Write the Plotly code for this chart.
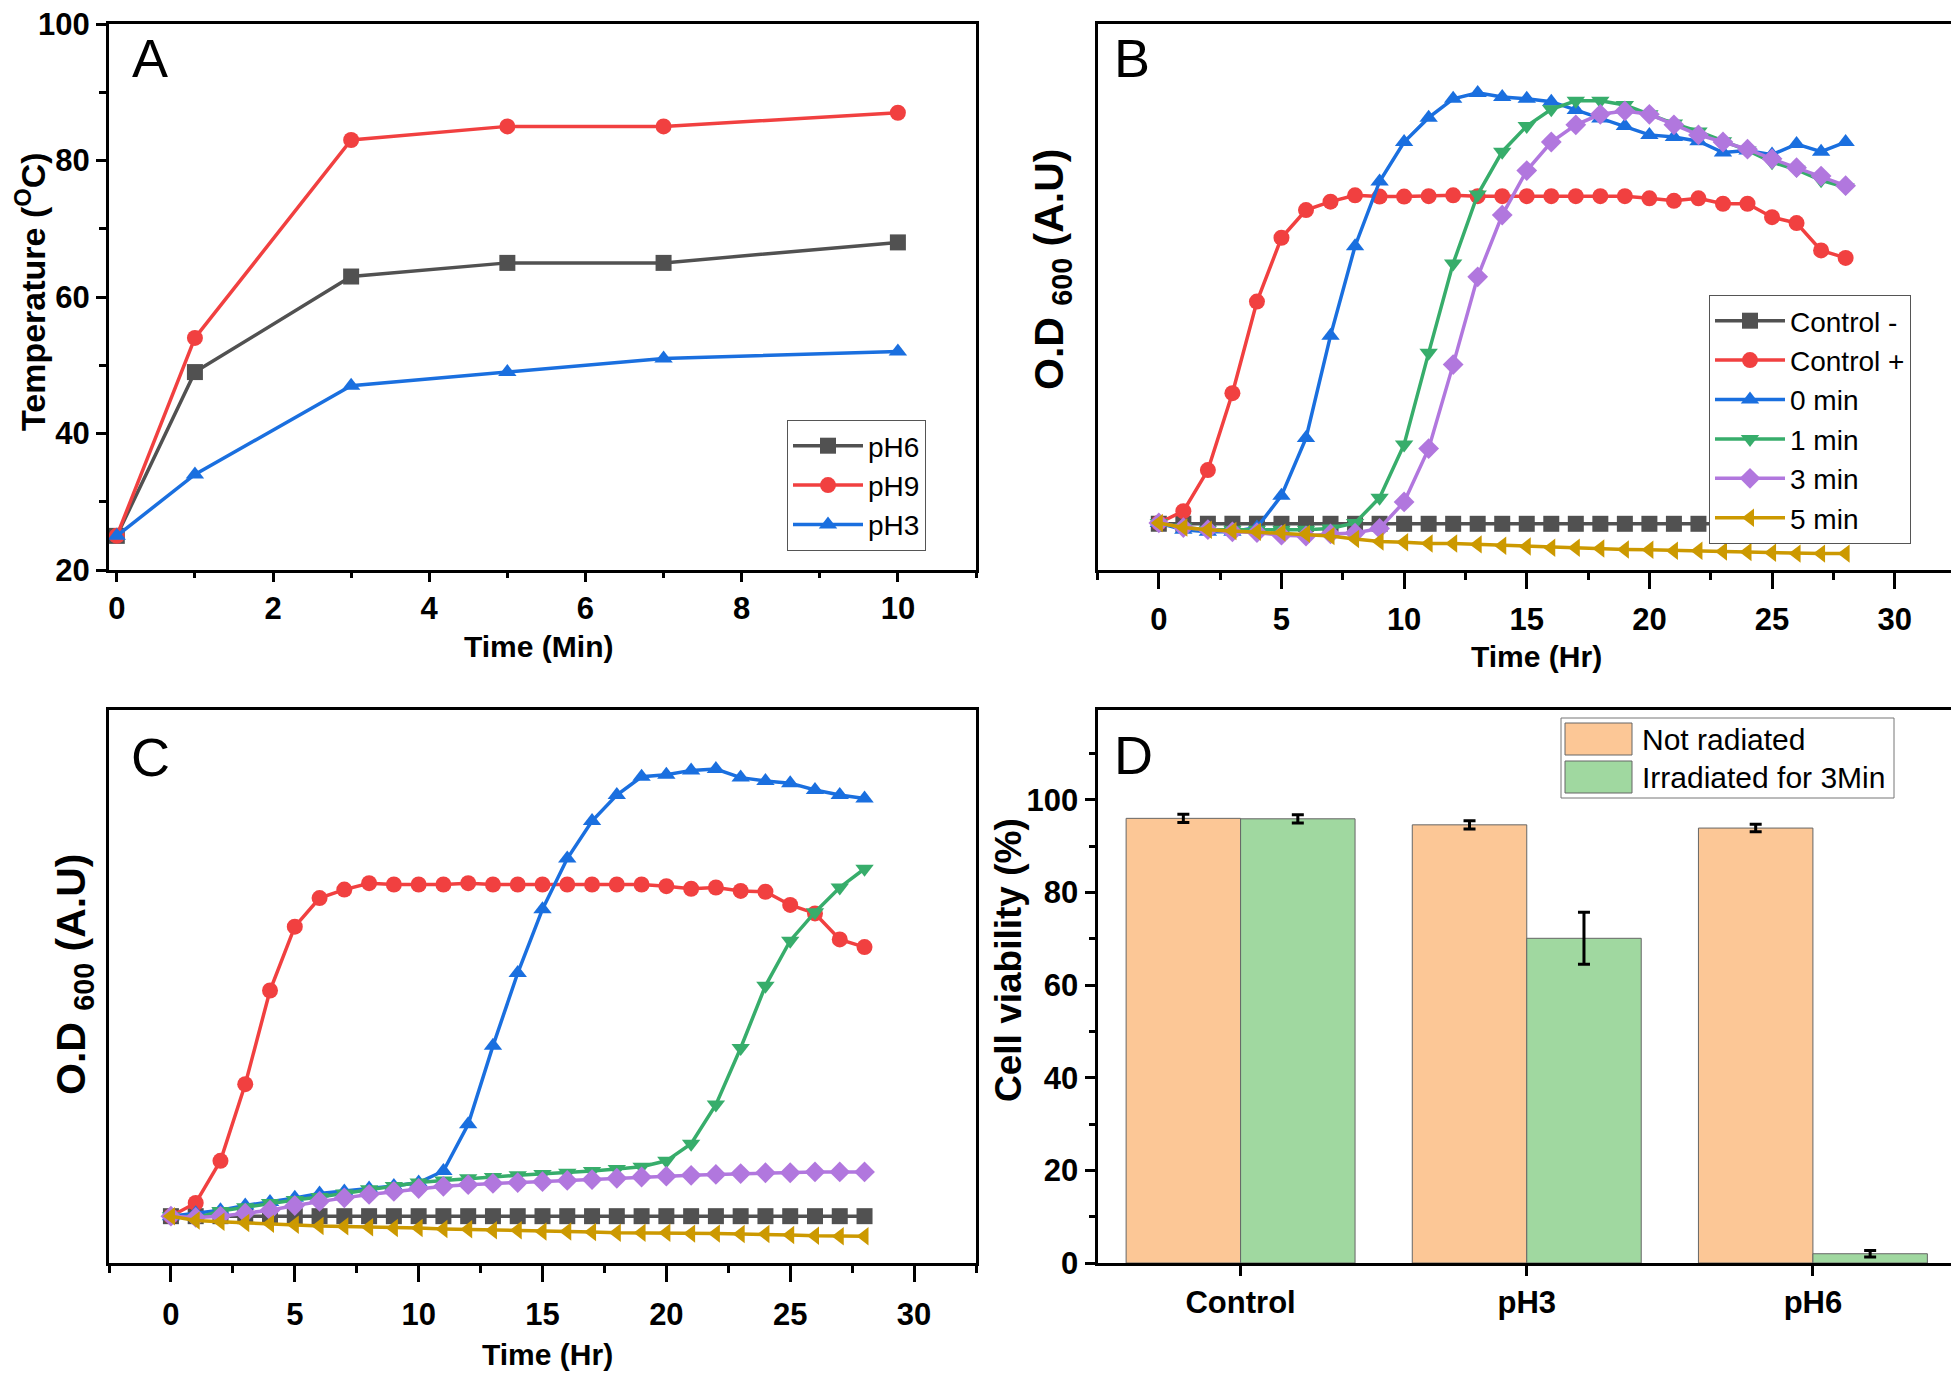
import plotly.graph_objects as go

# the page puts the figure 8 px in from the top-left corner of the window
OFF = 8
W, H = 1959 - OFF, 1374 - OFF

# ---- panel A: temperature vs irradiation time ----
time_min = [0, 1, 3, 5, 7, 10]
temp_ph6 = [25, 49, 63, 65, 65, 68]
temp_ph9 = [25, 54, 83, 85, 85, 87]
temp_ph3 = [25, 34, 47, 49, 51, 52]

# ---- panels B / C: growth curves (O.D 600, arbitrary units), hourly ----
hours = [0, 1, 2, 3, 4, 5, 6, 7, 8, 9, 10, 11, 12, 13, 14, 15, 16, 17, 18, 19, 20,
         21, 22, 23, 24, 25, 26, 27, 28]
series_names = ["Control -", "Control +", "0 min", "1 min", "3 min", "5 min"]

b_ctrl_neg = [0.11, 0.11, 0.11, 0.11, 0.11, 0.11, 0.11, 0.11, 0.11, 0.11, 0.11, 0.11, 0.11, 0.11,
              0.11, 0.11, 0.11, 0.11, 0.11, 0.11, 0.11, 0.11, 0.11, 0.11, 0.11, 0.11, 0.11, 0.11, 0.11]
b_ctrl_pos = [0.112, 0.140, 0.238, 0.421, 0.639, 0.791, 0.857, 0.877, 0.892, 0.889, 0.889, 0.890,
              0.892, 0.890, 0.890, 0.890, 0.890, 0.890, 0.890, 0.890, 0.885, 0.879, 0.885, 0.872,
              0.872, 0.840, 0.826, 0.761, 0.743]
b_0min = [0.112, 0.096, 0.091, 0.091, 0.101, 0.177, 0.314, 0.558, 0.771, 0.925, 1.019, 1.077,
          1.122, 1.136, 1.126, 1.122, 1.115, 1.095, 1.075, 1.057, 1.036, 1.031, 1.021, 0.994,
          0.999, 0.989, 1.014, 0.996, 1.019]
b_1min = [0.112, 0.101, 0.096, 0.096, 0.096, 0.096, 0.096, 0.099, 0.112, 0.172, 0.299, 0.517,
          0.730, 0.894, 0.996, 1.057, 1.097, 1.117, 1.117, 1.107, 1.085, 1.063, 1.044, 1.021,
          0.999, 0.971, 0.953, 0.928, 0.911]
b_3min = [0.112, 0.101, 0.096, 0.091, 0.089, 0.083, 0.081, 0.086, 0.088, 0.099, 0.162, 0.289,
          0.489, 0.698, 0.845, 0.951, 1.019, 1.060, 1.085, 1.093, 1.085, 1.060, 1.036, 1.019,
          1.002, 0.979, 0.958, 0.938, 0.915]
b_5min = [0.112, 0.101, 0.096, 0.093, 0.091, 0.089, 0.086, 0.081, 0.074, 0.068, 0.066, 0.063,
          0.063, 0.061, 0.058, 0.056, 0.053, 0.053, 0.051, 0.049, 0.048, 0.046, 0.046, 0.044,
          0.043, 0.041, 0.039, 0.039, 0.039]

c_ctrl_neg = [0.11, 0.11, 0.11, 0.11, 0.11, 0.11, 0.11, 0.11, 0.11, 0.11, 0.11, 0.11, 0.11, 0.11,
              0.11, 0.11, 0.11, 0.11, 0.11, 0.11, 0.11, 0.11, 0.11, 0.11, 0.11, 0.11, 0.11, 0.11, 0.11]
c_ctrl_pos = [0.110, 0.141, 0.240, 0.420, 0.640, 0.790, 0.857, 0.877, 0.892, 0.889, 0.889, 0.889,
              0.892, 0.889, 0.889, 0.889, 0.889, 0.889, 0.889, 0.889, 0.885, 0.879, 0.882, 0.874,
              0.872, 0.841, 0.821, 0.760, 0.742]
c_0min = [0.110, 0.117, 0.124, 0.135, 0.143, 0.153, 0.163, 0.168, 0.175, 0.181, 0.189, 0.216,
          0.326, 0.510, 0.681, 0.831, 0.950, 1.038, 1.099, 1.142, 1.147, 1.157, 1.160, 1.140,
          1.132, 1.127, 1.111, 1.099, 1.091]
c_1min = [0.110, 0.105, 0.122, 0.131, 0.141, 0.148, 0.155, 0.163, 0.173, 0.181, 0.189, 0.194,
          0.199, 0.202, 0.206, 0.209, 0.212, 0.216, 0.221, 0.226, 0.240, 0.280, 0.372, 0.505,
          0.651, 0.757, 0.824, 0.882, 0.926]
c_3min = [0.110, 0.107, 0.110, 0.117, 0.124, 0.135, 0.145, 0.153, 0.161, 0.168, 0.175, 0.180,
          0.184, 0.187, 0.189, 0.191, 0.194, 0.196, 0.199, 0.202, 0.204, 0.206, 0.208, 0.210,
          0.212, 0.212, 0.214, 0.214, 0.214]
c_5min = [0.110, 0.100, 0.097, 0.094, 0.092, 0.090, 0.087, 0.086, 0.084, 0.082, 0.082, 0.080,
          0.079, 0.077, 0.077, 0.074, 0.074, 0.073, 0.071, 0.071, 0.071, 0.069, 0.069, 0.068,
          0.068, 0.066, 0.064, 0.063, 0.063]

# ---- panel D: cell viability ----
groups = ["Control", "pH3", "pH6"]
viab_not = [96.0, 94.6, 93.9]
viab_not_err = [0.9, 0.9, 0.8]
viab_irr = [95.9, 70.1, 2.0]
viab_irr_err = [0.9, 5.6, 0.7]

COLORS = ["#515151", "#F14040", "#1A6FDF", "#37AD6B", "#B177DE", "#CC9900"]
SYMBOLS = ["square", "circle", "triangle-up", "triangle-down", "diamond", "triangle-left"]
ORANGE = "#FCC796"
LGREEN = "#A0D8A0"

FONT = "Liberation Sans, Arial"
TICKFONT = dict(family=FONT, size=31, color="black", weight="bold")
MSIZE = 16
LW = 3.5


def px(x, y):
    # window pixel -> paper coordinates
    return (x - OFF) / W, 1 - (y - OFF) / H


fig = go.Figure()

# A
for name, ys, col, sym in zip(["pH6", "pH9", "pH3"], [temp_ph6, temp_ph9, temp_ph3],
                              [COLORS[0], COLORS[1], COLORS[2]], SYMBOLS[:3]):
    fig.add_trace(go.Scatter(x=time_min, y=ys, name=name, mode="lines+markers",
                             line=dict(color=col, width=LW), marker=dict(symbol=sym, size=MSIZE, color=col),
                             xaxis="x", yaxis="y", legend="legend"))

# B and C
for sets, xa, ya, show in [([b_ctrl_neg, b_ctrl_pos, b_0min, b_1min, b_3min, b_5min], "x2", "y2", True),
                           ([c_ctrl_neg, c_ctrl_pos, c_0min, c_1min, c_3min, c_5min], "x3", "y3", False)]:
    for name, ys, col, sym in zip(series_names, sets, COLORS, SYMBOLS):
        fig.add_trace(go.Scatter(x=hours, y=ys, name=name, mode="lines+markers",
                                 line=dict(color=col, width=LW),
                                 marker=dict(symbol=sym, size=MSIZE, color=col),
                                 xaxis=xa, yaxis=ya, showlegend=show, legend="legend2"))

# D
fig.add_trace(go.Bar(x=groups, y=viab_not, name="Not radiated", marker=dict(color=ORANGE, line=dict(color="#666", width=1)),
                     error_y=dict(type="data", array=viab_not_err, color="black", thickness=3, width=6),
                     xaxis="x4", yaxis="y4", showlegend=False))
fig.add_trace(go.Bar(x=groups, y=viab_irr, name="Irradiated for 3Min", marker=dict(color=LGREEN, line=dict(color="#666", width=1)),
                     error_y=dict(type="data", array=viab_irr_err, color="black", thickness=3, width=6),
                     xaxis="x4", yaxis="y4", showlegend=False))


def frame(domain, anchor, **kw):
    d = dict(domain=domain, anchor=anchor, showline=True, linewidth=3, linecolor="black", mirror=True,
             showgrid=False, zeroline=False, ticks="outside", ticklen=10, tickwidth=3, tickcolor="black",
             tickfont=TICKFONT, ticklabeloverflow="allow", automargin=False)
    d.update(kw)
    return d


def minor(dt, ln=5):
    return dict(dtick=dt, ticks="outside", ticklen=ln, tickwidth=3, tickcolor="black", showgrid=False)


def overlay(on, side, anchor, rng, dt, t0, direction, ln, mn=None):
    d = dict(overlaying=on, side=side, anchor=anchor, range=rng, dtick=dt, tick0=t0, ticks=direction,
             ticklen=ln, tickwidth=3, tickcolor="black", showticklabels=False, showgrid=False,
             zeroline=False, automargin=False)
    if mn:
        d["minor"] = dict(dtick=mn, ticks=direction, ticklen=5, tickwidth=3, tickcolor="black")
    return d


def xdom(a, b):
    return [px(a, 0)[0], px(b, 0)[0]]


def ydom(top, bottom):
    return [px(0, bottom)[1], px(0, top)[1]]


xa_dom = xdom(109, 976)
xb_dom = xdom(1097.5, 1956)
top_dom = ydom(24, 570)
bot_dom = ydom(709.5, 1263)

fig.update_layout(
    width=W, height=H, margin=dict(l=0, r=0, t=0, b=0, autoexpand=False),
    paper_bgcolor="white", plot_bgcolor="white",
    barmode="group", bargap=0.2, bargroupgap=0,
    xaxis=frame(xa_dom, "y", range=[-0.1, 11], dtick=2, ticklen=9, minor=minor(1)),
    yaxis=frame(top_dom, "x", range=[20, 100], dtick=20, minor=minor(10, 7)),
    xaxis2=frame(xb_dom, "y2", range=[-2.5, 32.5], dtick=5, ticklen=16, minor=minor(2.5, 7),
                 ticklabelstandoff=4),
    yaxis2=frame(top_dom, "x2", range=[0, 1.3], showticklabels=False, ticks=""),
    xaxis3=frame(xa_dom, "y3", range=[-2.5, 32.5], dtick=5, ticklen=16, minor=minor(2.5, 7),
                 ticklabelstandoff=6),
    yaxis3=frame(bot_dom, "x3", range=[0, 1.3], showticklabels=False, ticks=""),
    xaxis4=frame(xb_dom, "y4", range=[-0.5, 2.5], type="category"),
    yaxis4=frame(bot_dom, "x4", range=[0, 119.5], dtick=20, minor=minor(10, 6)),
    # inward ticks on the top edge of A and D
    xaxis5=overlay("x", "top", "y", [-0.1, 11], 2, 0, "inside", 9, mn=1),
    xaxis6=overlay("x4", "top", "y4", [-0.5, 2.5], 1, 0, "inside", 6),
    # minor boundary ticks under D categories
    xaxis7=overlay("x4", "bottom", "y4", [-0.5, 2.5], 1, 0.5, "outside", 6),
    legend=dict(x=px(787, 420)[0], y=px(787, 420)[1], xanchor="left", yanchor="top", bgcolor="white",
                bordercolor="#555", borderwidth=1, itemwidth=70, tracegroupgap=0,
                font=dict(family=FONT, size=28, color="black")),
    legend2=dict(x=px(1709, 295)[0], y=px(1709, 295)[1], xanchor="left", yanchor="top", bgcolor="white",
                 bordercolor="#555", borderwidth=1, itemwidth=70, tracegroupgap=0,
                 font=dict(family=FONT, size=28, color="black")),
)

ann = []


def label(text, x, y, size, bold=True, angle=0):
    ax, ay = px(x, y)
    ann.append(dict(text=text, x=ax, y=ay, xref="paper", yref="paper", showarrow=False, textangle=angle,
                    xanchor="center", yanchor="middle",
                    font=dict(family=FONT, size=size, color="black", weight="bold" if bold else "normal")))


label("Temperature (<sup>O</sup>C)", 31, 292, 34, angle=-90)
label("Time (Min)", 538, 646, 30)
label("O.D <sub>600</sub> (A.U)", 1052, 270, 41, angle=-90)
label("Time (Hr)", 1536, 656, 30)
label("O.D <sub>600</sub> (A.U)", 74, 975, 41, angle=-90)
label("Time (Hr)", 547, 1354, 30)
label("Cell viability (%)", 1008, 960, 37, angle=-90)
for letter, x, y in [("A", 150, 58), ("B", 1132, 58), ("C", 150, 757), ("D", 1133, 755)]:
    label(letter, x, y, 54, bold=False)

# legend box for D, drawn by hand so the swatches match the original size
shapes = []
x0, y0 = px(1561, 718)
x1, y1 = px(1894, 798)
shapes.append(dict(type="rect", xref="paper", yref="paper", x0=x0, y0=y1, x1=x1, y1=y0,
                   line=dict(color="#777", width=1), fillcolor="white"))
for (top, bottom), col, txt in [((723, 755), ORANGE, "Not radiated"), ((761, 793), LGREEN, "Irradiated for 3Min")]:
    sx0, sy0 = px(1565, top)
    sx1, sy1 = px(1632, bottom)
    shapes.append(dict(type="rect", xref="paper", yref="paper", x0=sx0, y0=sy1, x1=sx1, y1=sy0,
                       line=dict(color="#666", width=1), fillcolor=col))
    tx, ty = px(1640, (top + bottom) / 2)
    ann.append(dict(text=txt, x=tx, y=ty, xref="paper", yref="paper", showarrow=False,
                    xanchor="left", yanchor="middle", font=dict(family=FONT, size=30, color="black")))

fig.update_layout(annotations=ann, shapes=shapes)

fig.write_html("out.html")
